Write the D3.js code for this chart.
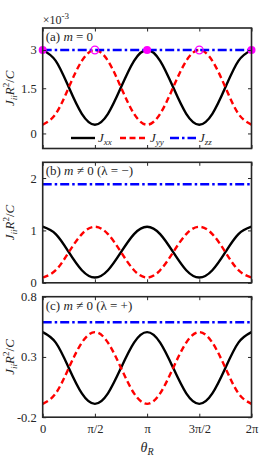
<!DOCTYPE html>
<html><head><meta charset="utf-8">
<script src="https://cdn.jsdelivr.net/npm/d3@7"></script>
<style>body{margin:0;background:#fff}svg{display:block}text{font-family:"Liberation Serif","Times New Roman",serif;fill:#262626}</style>
</head><body><svg id="c" width="278" height="464"></svg>
<script>
// theta in units of pi
const theta = [0,0.125,0.25,0.375,0.5,0.625,0.75,0.875,1,1.125,1.25,1.375,1.5,1.625,1.75,1.875,2];
const xTicks = [0,0.5,1,1.5,2];
const xTickLabels = ["0","\u03c0/2","\u03c0","3\u03c0/2","2\u03c0"];

// panel (a), values x1e-3
const JxxA = [2.77,2.41,1.53,0.65,0.29,0.65,1.53,2.41,2.77,2.41,1.53,0.65,0.29,0.65,1.53,2.41,2.77];
const JyyA = [0.29,0.65,1.53,2.41,2.77,2.41,1.53,0.65,0.29,0.65,1.53,2.41,2.77,2.41,1.53,0.65,0.29];
const JzzA = 2.77;
const yTicksA = [0,1.5,2.77];
const yTickLabelsA = ["0","1.5","3"];
const filledMarkX = [0,1,2];
const openMarkX = [0.5,1.5];

// panel (b)
const JxxB = [1.07,0.93,0.585,0.24,0.10,0.24,0.585,0.93,1.07,0.93,0.585,0.24,0.10,0.24,0.585,0.93,1.07];
const JyyB = [0.10,0.24,0.585,0.93,1.07,0.93,0.585,0.24,0.10,0.24,0.585,0.93,1.07,0.93,0.585,0.24,0.10];
const JzzB = 1.88;
const yTicksB = [0,1,2];
const yTickLabelsB = ["0","1","2"];

// panel (c)
const JxxC = [0.506,0.419,0.209,-0.002,-0.089,-0.002,0.209,0.419,0.506,0.419,0.209,-0.002,-0.089,-0.002,0.209,0.419,0.506];
const JyyC = [-0.089,-0.002,0.209,0.419,0.506,0.419,0.209,-0.002,-0.089,-0.002,0.209,0.419,0.506,0.419,0.209,-0.002,-0.089];
const JzzC = 0.588;
const yTicksC = [-0.2,0.3,0.8];
const yTickLabelsC = ["-0.2","0.3","0.8"];

const svg = d3.select("#c");
const L = 42.7, R = 251.5, H = 120.5;
const x = d3.scaleLinear().domain([0,2]).range([L,R]);
const FRAME = "#262626";

const panels = [
  {top:28, dom:[-0.5,3.5], xx:JxxA, yy:JyyA, zz:JzzA, ticks:yTicksA, labels:yTickLabelsA, title:["(a) ", ["m"], " = 0"]},
  {top:162.3, dom:[0,2.3], xx:JxxB, yy:JyyB, zz:JzzB, ticks:yTicksB, labels:yTickLabelsB, title:["(b) ", ["m"], " \u2260 0 (\u03bb = \u2212)"]},
  {top:296.7, dom:[-0.2,0.8], xx:JxxC, yy:JyyC, zz:JzzC, ticks:yTicksC, labels:yTickLabelsC, title:["(c) ", ["m"], " \u2260 0 (\u03bb = +)"]}
];

panels.forEach((p,i)=>{
  const y = d3.scaleLinear().domain(p.dom).range([p.top+H,p.top]);
  const g = svg.append("g");
  const clipId = "clip"+i;
  svg.append("clipPath").attr("id",clipId).append("rect").attr("x",L).attr("y",p.top).attr("width",R-L).attr("height",H);
  const line = d3.line().x((d,j)=>x(theta[j])).y(d=>y(d)).curve(d3.curveNatural);
  const pg = g.append("g").attr("clip-path",`url(#${clipId})`);
  pg.append("path").attr("d",line(p.xx)).attr("fill","none").attr("stroke","#000").attr("stroke-width",2.4);
  pg.append("path").attr("d",line(p.yy)).attr("fill","none").attr("stroke","#ff0000").attr("stroke-width",2.4).attr("stroke-dasharray","6,3.5");
  pg.append("path").attr("d",d3.line().x(d=>x(d)).y(()=>y(p.zz))([0,2])).attr("fill","none").attr("stroke","#0000ff").attr("stroke-width",2.4).attr("stroke-dasharray","9,3,2.5,3");
  if(i===0){
    g.selectAll(".fm").data(filledMarkX).enter().append("circle").attr("cx",d=>x(d)).attr("cy",y(p.zz)).attr("r",4).attr("fill","#ff00ff");
    g.selectAll(".om").data(openMarkX).enter().append("circle").attr("cx",d=>x(d)).attr("cy",y(p.zz)).attr("r",3.8).attr("fill","none").attr("stroke","#ff00ff").attr("stroke-width",1.3);
  }
  // axes
  const ax = g.append("g");
  ax.append("g").attr("transform",`translate(${L},0)`).call(d3.axisLeft(y).tickValues(p.ticks).tickFormat((d,j)=>p.labels[j]).tickSize(-3.5).tickPadding(6));
  ax.append("g").attr("transform",`translate(${R},0)`).call(d3.axisRight(y).tickValues(p.ticks).tickFormat("").tickSize(-3.5));
  ax.append("g").attr("transform",`translate(0,${p.top+H})`).call(d3.axisBottom(x).tickValues(xTicks).tickFormat(i===2?((d,j)=>xTickLabels[j]):"").tickSize(-3.5).tickPadding(7));
  ax.append("g").attr("transform",`translate(0,${p.top})`).call(d3.axisTop(x).tickValues(xTicks).tickFormat("").tickSize(-3.5));
  ax.selectAll(".domain").remove();
  ax.selectAll(".tick line").attr("stroke",FRAME).attr("stroke-width",1);
  ax.selectAll("text").attr("font-size",12.5).attr("fill",FRAME).style("font-family",'"Liberation Serif",serif');
  g.append("rect").attr("x",L).attr("y",p.top).attr("width",R-L).attr("height",H).attr("fill","none").attr("stroke",FRAME).attr("stroke-width",1.6);
  // title
  const t = g.append("text").attr("x",L+3).attr("y",p.top+13).attr("font-size",13);
  p.title.forEach(s=>{ if(Array.isArray(s)) t.append("tspan").attr("font-style","italic").text(s[0]); else t.append("tspan").text(s); });
  // y label
  const yl = g.append("text").attr("transform",`translate(14,${p.top+H/2}) rotate(-90)`).attr("text-anchor","middle").attr("font-size",13).attr("font-style","italic");
  yl.append("tspan").text("J");
  yl.append("tspan").attr("font-size",9).attr("dy",3).text("ii");
  yl.append("tspan").attr("dy",-3).text("R");
  yl.append("tspan").attr("font-size",9).attr("dy",-5).attr("font-style","normal").text("2");
  yl.append("tspan").attr("dy",5).attr("font-style","normal").text("/");
  yl.append("tspan").text("C");
});

// exponent label
const ex = svg.append("text").attr("x",L).attr("y",24).attr("font-size",12);
ex.append("tspan").text("\u00d710");
ex.append("tspan").attr("font-size",9).attr("dy",-5).text("-3");

// legend
const legY = 138;
const leg = [
  {x0:71, x1:95, c:"#000", dash:null, sub:"xx"},
  {x0:120, x1:147, c:"#ff0000", dash:"6,3.5", sub:"yy"},
  {x0:170, x1:196, c:"#0000ff", dash:"9,3,2.5,3", sub:"zz"}
];
leg.forEach(d=>{
  svg.append("line").attr("x1",d.x0).attr("x2",d.x1).attr("y1",legY).attr("y2",legY).attr("stroke",d.c).attr("stroke-width",2.4).attr("stroke-dasharray",d.dash);
  const t = svg.append("text").attr("x",d.x1+3).attr("y",legY+4).attr("font-size",13).attr("font-style","italic");
  t.append("tspan").text("J");
  t.append("tspan").attr("font-size",9).attr("dy",3).text(d.sub);
});

// x label
const xl = svg.append("text").attr("x",(L+R)/2).attr("y",452).attr("text-anchor","middle").attr("font-size",14).attr("font-style","italic");
xl.append("tspan").text("\u03b8");
xl.append("tspan").attr("font-size",10).attr("dy",3).text("R");
</script></body></html>
